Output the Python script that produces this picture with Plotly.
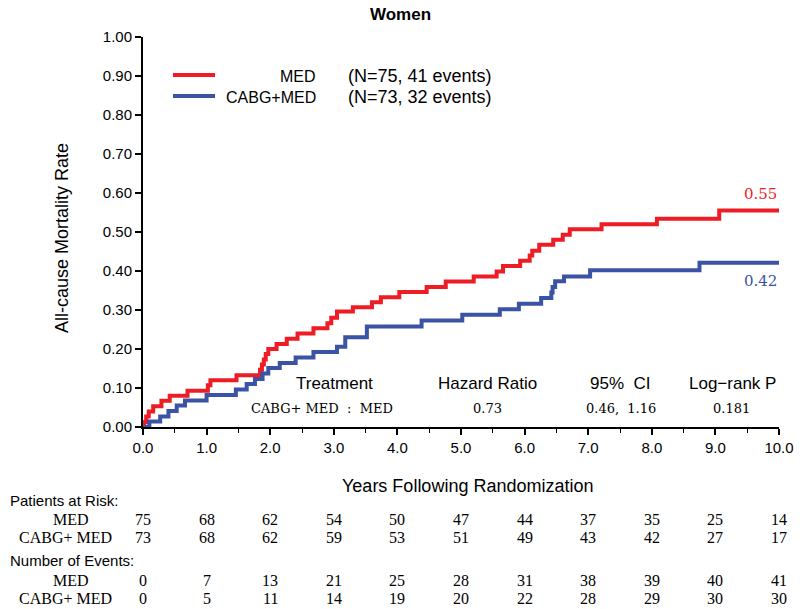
import plotly.graph_objects as go

# ---------------- data ----------------
red_t = [0, 0.02, 0.05, 0.09, 0.16, 0.29, 0.42, 0.70, 1.02, 1.06, 1.47, 1.84, 1.87, 1.90, 1.93,
         1.97, 2.10, 2.26, 2.43, 2.68, 2.90, 2.96, 3.05, 3.30, 3.60, 3.74, 4.03, 4.46, 4.76, 5.20,
         5.56, 5.66, 5.93, 6.08, 6.12, 6.23, 6.45, 6.60, 6.71, 7.21, 8.08, 9.06, 10.0]
red_y = [0, 0.013, 0.027, 0.040, 0.053, 0.067, 0.080, 0.093, 0.107, 0.120, 0.133, 0.147, 0.160, 0.173, 0.187,
         0.200, 0.213, 0.226, 0.240, 0.253, 0.266, 0.280, 0.296, 0.307, 0.320, 0.333, 0.346, 0.359, 0.373, 0.386,
         0.399, 0.413, 0.426, 0.440, 0.452, 0.467, 0.480, 0.493, 0.507, 0.520, 0.534, 0.555, 0.555]

blue_t = [0, 0.10, 0.27, 0.40, 0.53, 0.66, 1.00, 1.46, 1.63, 1.76, 1.88, 1.97, 2.15, 2.40, 2.68,
          3.05, 3.18, 3.52, 4.38, 5.02, 5.61, 5.91, 6.26, 6.42, 6.44, 6.48, 6.62, 7.03, 8.75, 10.0]
blue_y = [0, 0.014, 0.027, 0.041, 0.055, 0.068, 0.082, 0.096, 0.110, 0.123, 0.137, 0.151, 0.164, 0.178, 0.192,
          0.206, 0.230, 0.258, 0.273, 0.288, 0.302, 0.316, 0.331, 0.345, 0.359, 0.374, 0.386, 0.402, 0.421, 0.421]

groups = ["MED", "CABG+MED"]
legend_info = ["(N=75, 41 events)", "(N=73, 32 events)"]
end_labels = ["0.55", "0.42"]

years = [0, 1, 2, 3, 4, 5, 6, 7, 8, 9, 10]
at_risk_med = [75, 68, 62, 54, 50, 47, 44, 37, 35, 25, 14]
at_risk_cabg = [73, 68, 62, 59, 53, 51, 49, 43, 42, 27, 17]
events_med = [0, 7, 13, 21, 25, 28, 31, 38, 39, 40, 41]
events_cabg = [0, 5, 11, 14, 19, 20, 22, 28, 29, 30, 30]

stats_header = ["Treatment", "Hazard Ratio", "95%  CI", "Log\u2212rank P"]
stats_row = ["CABG+ MED  :  MED", "0.73", "0.46,  1.16", "0.181"]

RED = "#EE1C25"
BLUE = "#3A53A4"
SANS = "Liberation Sans, Arial, sans-serif"
NARROW = "Liberation Sans Narrow, Arial Narrow, Liberation Sans, sans-serif"
SERIF_W = "DejaVu Serif, serif"
SERIF = "Liberation Serif, Times New Roman, serif"

W, H = 800, 609
# plot-area in page pixels: x 143..779, y 37..427
L, R, T, B = 143, 21, 37, 182
PW, PH = W - L - R, H - T - B


def py(ypx):
    """page pixel y -> paper y"""
    return (H - B - ypx) / PH


def px(xpx):
    return (xpx - L) / PW


fig = go.Figure()
fig.add_trace(go.Scatter(x=red_t, y=red_y, mode="lines", line=dict(color=RED, width=4, shape="hv"),
                         showlegend=False, hoverinfo="skip"))
fig.add_trace(go.Scatter(x=blue_t, y=blue_y, mode="lines", line=dict(color=BLUE, width=4, shape="hv"),
                         showlegend=False, hoverinfo="skip"))

ann = []
# title
ann.append(dict(text="<b>Women</b>", x=px(400), xref="paper", y=py(15), yref="paper", showarrow=False,
                xanchor="center", yanchor="middle", font=dict(family=SANS, size=17, color="black")))
# y title
ann.append(dict(text="All-cause Mortality Rate", x=px(62), xref="paper", y=py(238), yref="paper",
                textangle=-90, showarrow=False, xanchor="center", yanchor="middle",
                font=dict(family=SANS, size=18, color="black")))
# x title
ann.append(dict(text="Years Following Randomization", x=px(467), xref="paper", y=py(486), yref="paper",
                showarrow=False, xanchor="center", yanchor="middle",
                font=dict(family=SANS, size=18, color="black")))

# legend
shapes = []
for i, (col, yy) in enumerate([(RED, 75), (BLUE, 96)]):
    shapes.append(dict(type="line", xref="paper", yref="paper", x0=px(173), x1=px(215), y0=py(yy), y1=py(yy),
                       line=dict(color=col, width=4)))
    ann.append(dict(text=groups[i], x=px(318), xref="paper", y=py(yy + 1), yref="paper", showarrow=False,
                    xanchor="right", yanchor="middle", font=dict(family=SANS, size=16, color="black")))
    ann.append(dict(text=legend_info[i], x=px(346), xref="paper", y=py(yy + 1), yref="paper", showarrow=False,
                    xanchor="left", yanchor="middle", font=dict(family=SANS, size=18, color="black")))

# end labels
ann.append(dict(text=end_labels[0], x=10.0, xref="x", y=red_y[-1], yref="y", showarrow=False,
                xanchor="right", yanchor="bottom", yshift=6, font=dict(family=SERIF_W, size=15, color=RED)))
ann.append(dict(text=end_labels[1], x=10.0, xref="x", y=blue_y[-1], yref="y", showarrow=False,
                xanchor="right", yanchor="top", yshift=-7, font=dict(family=SERIF_W, size=15, color=BLUE)))

# stats table
stat_x = [334, 487, 620, 732]
row_x = [322, 487, 621, 731]
for i in range(4):
    ann.append(dict(text=stats_header[i], x=px(stat_x[i]), xref="paper", y=py(383), yref="paper",
                    showarrow=False, xanchor="center", yanchor="middle",
                    font=dict(family=SANS, size=17, color="black")))
    ann.append(dict(text=stats_row[i], x=px(row_x[i]), xref="paper", y=py(408), yref="paper",
                    showarrow=False, xanchor="center", yanchor="middle",
                    font=dict(family=SERIF_W, size=13, color="black")))

# risk table
ann.append(dict(text="Patients at Risk:", x=px(8), xref="paper", y=py(500), yref="paper", showarrow=False,
                xanchor="left", yanchor="middle", font=dict(family=NARROW, size=15, color="black")))
ann.append(dict(text="Number of Events:", x=px(8), xref="paper", y=py(560), yref="paper", showarrow=False,
                xanchor="left", yanchor="middle", font=dict(family=NARROW, size=15, color="black")))
label_x = {groups[0]: 71, groups[1]: 65}
rows = [(519, groups[0], at_risk_med), (537, groups[1], at_risk_cabg),
        (580, groups[0], events_med), (598, groups[1], events_cabg)]
for ypx, lab, vals in rows:
    ann.append(dict(text=lab.replace("+", "+ "), x=px(label_x[lab]), xref="paper", y=py(ypx), yref="paper",
                    showarrow=False, xanchor="center", yanchor="middle",
                    font=dict(family=SERIF, size=16, color="black")))
    for yr, v in zip(years, vals):
        ann.append(dict(text=str(v), x=yr, xref="x", y=py(ypx), yref="paper", showarrow=False,
                        xanchor="center", yanchor="middle", font=dict(family=SERIF, size=16, color="black")))

fig.update_layout(
    width=W, height=H,
    margin=dict(l=L, r=R, t=T, b=B, autoexpand=False),
    plot_bgcolor="white", paper_bgcolor="white",
    annotations=ann, shapes=shapes,
    xaxis=dict(range=[0, 10], tickmode="array", tickvals=years, ticktext=[f"{v:.1f}" for v in years],
               automargin=False,
               showgrid=False, zeroline=False, showline=True, linecolor="black", linewidth=2,
               ticks="outside", ticklen=6, tickwidth=1.5, tickcolor="black",
               minor=dict(dtick=0.5, tick0=0, ticks="outside", ticklen=4, tickwidth=1, tickcolor="black"),
               tickfont=dict(family=SANS, size=15, color="black")),
    yaxis=dict(range=[0, 1.0], tickmode="linear", tick0=0, dtick=0.1, tickformat=".2f",
               automargin=False,
               showgrid=False, zeroline=False, showline=True, linecolor="black", linewidth=2,
               ticks="outside", ticklen=6, tickwidth=1.5, tickcolor="black",
               tickfont=dict(family=SANS, size=15, color="black")),
)

fig.write_html(
    "out.html",
    config={"displayModeBar": False},
    post_script="document.body.style.margin='0';document.body.style.overflow='hidden';"
                "document.documentElement.style.overflow='hidden';",
)
